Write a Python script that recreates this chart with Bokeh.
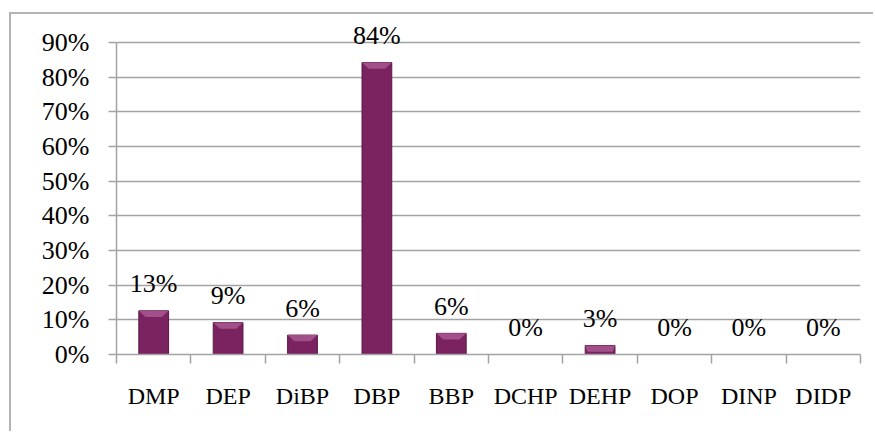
from bokeh.plotting import figure
from bokeh.models import ColumnDataSource, Range1d, FixedTicker, NumeralTickFormatter
from bokeh.core.properties import value
from bokeh.embed import file_html
from bokeh.resources import INLINE

categories = ["DMP", "DEP", "DiBP", "DBP", "BBP", "DCHP", "DEHP", "DOP", "DINP", "DIDP"]
shares = [0.126, 0.092, 0.056, 0.842, 0.061, 0.0, 0.026, 0.0, 0.0, 0.0]
y_ticks = [0.0, 0.1, 0.2, 0.3, 0.4, 0.5, 0.6, 0.7, 0.8, 0.9]

FONT = "Liberation Serif"
NUM_FS = "26px"
CAT_FS = "24px"
GRID = "#a3a3a3"
BAR_W = 0.4

xs = [i + 0.5 for i in range(len(categories))]
labels = [f"{v * 100:.0f}%" for v in shares]
src = ColumnDataSource(dict(x=xs, top=shares, label=labels))

# bevel (lighter top face) shapes derived from the bar values
bev_x, bev_y = [], []
for x, v in zip(xs, shares):
    if v <= 0:
        continue
    d = min(v, 0.018)
    inset = 0.09 if v > 0.03 else 0.03
    h = BAR_W / 2
    bev_x.append([x - h, x + h, x + h - inset, x - h + inset])
    bev_y.append([v, v, v - d, v - d])

# outer chart border via CSS (top and left edges visible in the crop)
ML, MT, BW = 9, 12, 2
W, H = 875 - ML - BW, 433 - MT - BW

p = figure(width=W, height=H, output_backend="svg", toolbar_location=None,
           x_range=Range1d(0, len(categories)), y_range=Range1d(0, 0.9808),
           min_border_left=116 - ML - BW, min_border_right=15, min_border_top=0,
           min_border_bottom=433 - 354)
p.styles = {"margin-left": f"{ML}px", "margin-top": f"{MT}px",
            "border-top": f"{BW}px solid #b4b4b4",
            "border-left": f"{BW}px solid #b4b4b4"}
p.outline_line_color = None
p.background_fill_color = "white"
p.border_fill_color = "white"

# bars
p.vbar(x="x", top="top", bottom=0, width=BAR_W, source=src,
       fill_color="#7a2360", line_color="#5c1747", line_width=1)
p.patches(bev_x, bev_y, fill_color="#a2508a", line_color=None)

# value labels
p.text(x="x", y="top", text="label", source=src, text_align="center",
       text_baseline="alphabetic", y_offset=-27,
       text_font=value(FONT), text_font_size=NUM_FS, text_color="black")

# x axis: labels between tick marks
p.xaxis.ticker = FixedTicker(ticks=xs, minor_ticks=list(range(len(categories) + 1)))
p.xaxis.major_label_overrides = {x: c for x, c in zip(xs, categories)}
p.xaxis.major_tick_out = 0
p.xaxis.major_tick_in = 0
p.xaxis.minor_tick_out = 9
p.xaxis.minor_tick_in = 0
p.xaxis.minor_tick_line_color = GRID
p.xaxis.minor_tick_line_width = 1.5
p.xaxis.axis_line_color = GRID
p.xaxis.axis_line_width = 1.5
p.xaxis.major_label_standoff = 19
p.xaxis.major_label_text_font = FONT
p.xaxis.major_label_text_font_size = CAT_FS
p.xaxis.major_label_text_color = "black"

# y axis
p.yaxis.ticker = FixedTicker(ticks=y_ticks, minor_ticks=[])
p.yaxis.bounds = (0, 0.9)
p.yaxis.formatter = NumeralTickFormatter(format="0%")
p.yaxis.major_tick_out = 8
p.yaxis.major_tick_in = 0
p.yaxis.major_tick_line_color = GRID
p.yaxis.major_tick_line_width = 1.5
p.yaxis.axis_line_color = GRID
p.yaxis.axis_line_width = 1.5
p.yaxis.major_label_standoff = 19
p.yaxis.major_label_text_font = FONT
p.yaxis.major_label_text_font_size = NUM_FS
p.yaxis.major_label_text_color = "black"

p.xgrid.grid_line_color = None
p.ygrid.ticker = FixedTicker(ticks=y_ticks)
p.ygrid.grid_line_color = GRID
p.ygrid.grid_line_width = 1.5

open("out.html", "w").write(file_html(p, INLINE))
